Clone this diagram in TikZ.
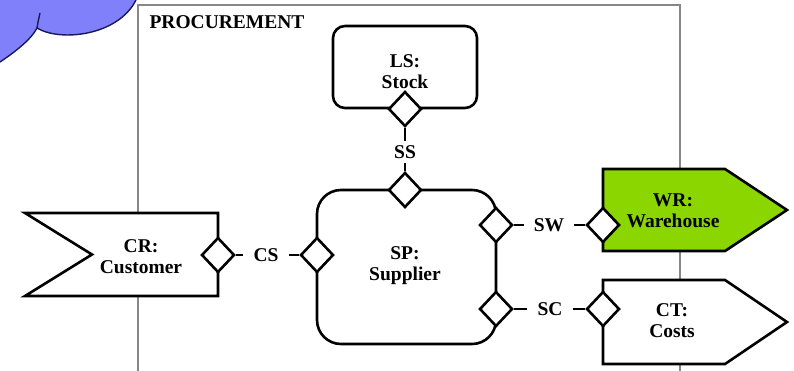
\documentclass[tikz,border=0pt]{standalone}
\usepackage{fontspec}
\setmainfont{Liberation Serif}
\usetikzlibrary{shapes.geometric}

\definecolor{cloudblue}{RGB}{128,128,250}
\definecolor{cloudline}{RGB}{25,25,90}
\definecolor{wrgreen}{RGB}{140,214,0}
\definecolor{framegray}{RGB}{135,135,135}

\tikzset{
  port/.style={draw, diamond, fill=white, line width=2.6pt, inner sep=0pt,
    minimum width=33pt, minimum height=35pt},
  flowlabel/.style={font=\fontsize{19.5}{21}\selectfont\bfseries,
    inner xsep=10pt, inner ysep=4pt},
  roletext/.style={font=\fontsize{19.5}{21}\selectfont\bfseries, align=center},
  part/.style={draw, line width=2.6pt, line join=miter},
  wire/.style={line width=2.6pt},
}

\begin{document}
\begin{tikzpicture}[x=1pt, y=1pt]

  \useasboundingbox (0,0) rectangle (794,-370);
  \clip (0,0) rectangle (794,-370);

  %% Cloud (top left corner)
  \fill[cloudblue]
    (0,-62) .. controls (18,-50) and (32,-38) .. (37,-28)
            .. controls (60,-42) and (118,-36) .. (136,0) -- (0,0) -- cycle;
  \draw[cloudline, line width=1.4pt]
    (0,-62) .. controls (18,-50) and (32,-38) .. (37,-28)
            .. controls (60,-42) and (118,-36) .. (136,0);
  \draw[cloudline, line width=1.4pt]
    (37,-28) .. controls (38,-22) .. (40,-13);

  %% Procurement frame
  \draw[framegray, line width=2pt] (138,-5) rectangle (680,-390);
  \node[roletext, anchor=west] (proc) at (146,-22) {PROCUREMENT};

  %% Stock
  \draw[part, rounded corners=12pt] (333,-26) rectangle (477,-108);
  \node[roletext] (ls) at (405,-72) {LS:\\Stock};

  %% Supplier
  \draw[part, rounded corners=24pt] (317,-190) rectangle (496,-344);
  \node[roletext] (sp) at (405,-266) {SP:\\Supplier};

  %% Customer
  \draw[part, fill=white]
    (25,-213) -- (218,-213) -- (218,-296) -- (25,-296) -- (92,-254.5) -- cycle;
  \node[roletext] (cr) at (141,-257) {CR:\\Customer};

  %% Warehouse
  \draw[part, fill=wrgreen]
    (603,-169) -- (725,-169) -- (787,-210) -- (725,-251) -- (603,-251) -- cycle;
  \node[roletext] (wr) at (673,-211) {WR:\\Warehouse};

  %% Costs
  \draw[part, fill=white]
    (603,-280) -- (725,-280) -- (787,-322) -- (725,-364) -- (603,-364) -- cycle;
  \node[roletext] (ct) at (672,-321) {CT:\\Costs};

  %% Ports
  \node[port] (lsport) at (405,-109) {};
  \node[port] (spn)    at (405,-190) {};
  \node[port] (spw)    at (317,-255) {};
  \node[port] (spe)    at (496,-225) {};
  \node[port] (sps)    at (496,-309) {};
  \node[port] (crport) at (218,-255) {};
  \node[port] (wrport) at (603,-225) {};
  \node[port] (ctport) at (603,-309) {};

  %% Flows
  \node[flowlabel] (ss) at (405,-152) {SS};
  \node[flowlabel] (cs) at (266,-255) {CS};
  \node[flowlabel] (sw) at (549,-225) {SW};
  \node[flowlabel] (sc) at (550,-309) {SC};

  \draw[wire] (lsport.south) -- (ss.north);
  \draw[wire] (ss.south) -- (spn.north);
  \draw[wire] (crport.east) -- (cs.west);
  \draw[wire] (cs.east) -- (spw.west);
  \draw[wire] (spe.east) -- (sw.west);
  \draw[wire] (sw.east) -- (wrport.west);
  \draw[wire] (sps.east) -- (sc.west);
  \draw[wire] (sc.east) -- (ctport.west);

\end{tikzpicture}
\end{document}
